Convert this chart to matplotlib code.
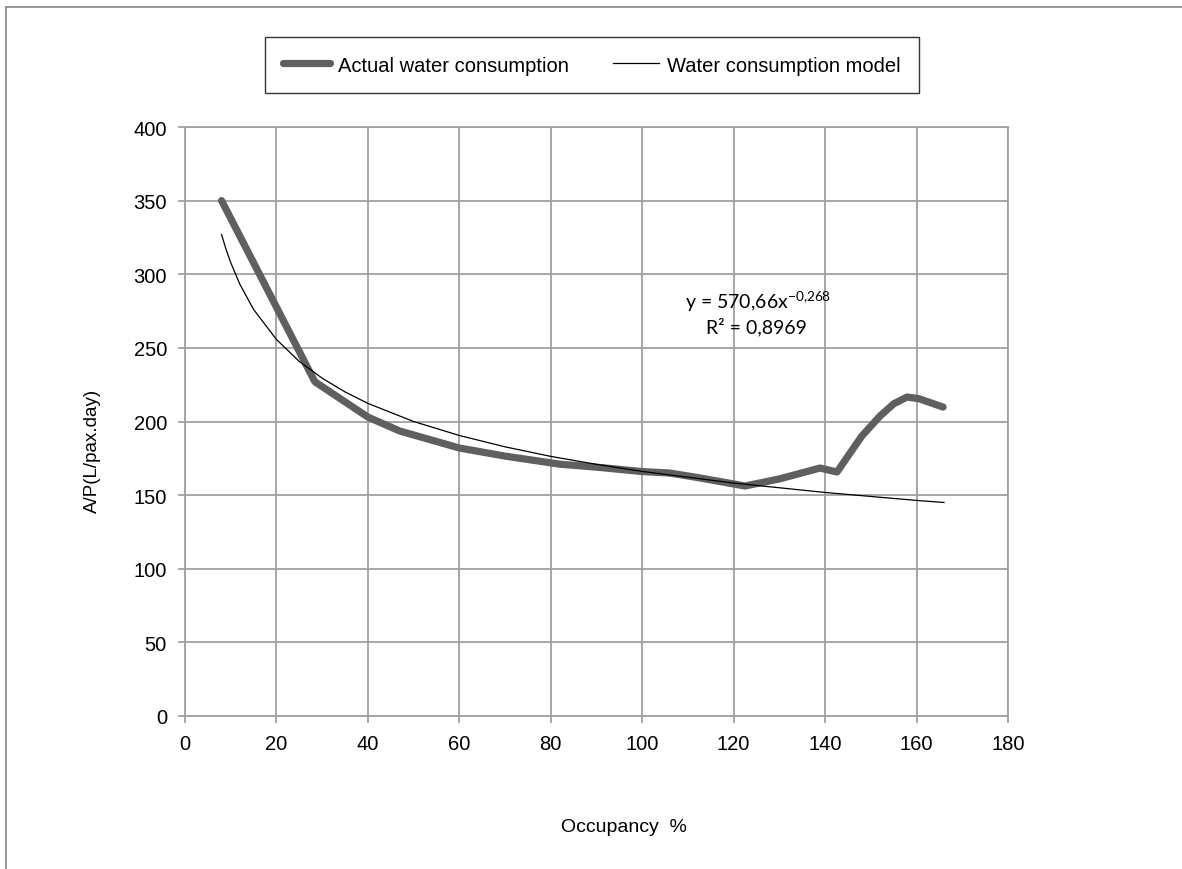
import matplotlib
matplotlib.use('Agg')
import matplotlib.pyplot as plt
from matplotlib.lines import Line2D

plt.rcParams['font.family'] = ['Liberation Sans', 'DejaVu Sans']

# actual water consumption
occ = [8, 15.3, 28.4, 40, 47, 60, 70, 82, 90, 100, 106, 112, 122.5, 130, 138.9, 142.6, 148, 152, 155, 157.9, 160.5, 165.8]
ap = [350, 306, 227, 203, 193.5, 182, 176.5, 171, 169, 166, 165, 162, 156.2, 161, 168.4, 165.7, 190, 203.7, 212, 216.6, 215.5, 209.8]

# water consumption model (power trendline as drawn)
model_x = [8, 9, 10, 12, 15, 20, 25, 30, 35, 40, 50, 60, 70, 80, 90, 100, 120, 140, 160, 166]
model_y = [326.9, 316.7, 307.9, 293.2, 276.1, 255.7, 240.8, 229.4, 220.1, 212.3, 200.0, 190.5, 182.8,
           176.3, 170.9, 166.1, 158.2, 151.8, 146.4, 145.0]

xticks = list(range(0, 181, 20))
yticks = list(range(0, 401, 50))

W, H = 1182, 870
fig = plt.figure(figsize=(W / 100, H / 100), dpi=100)
ax = fig.add_axes([185/W, 1 - 717/H, (1008-185)/W, (717-128)/H])

l1, = ax.plot(occ, ap, color='#5f5f5f', lw=5.2, solid_joinstyle='round', solid_capstyle='round',
              label='Actual water consumption', zorder=3)
l2, = ax.plot(model_x, model_y, color='black', lw=0.9, label='Water consumption model', zorder=4)

ax.set_xlim(0, 180)
ax.set_ylim(0, 400)
ax.set_xticks(xticks)
ax.set_yticks(yticks)
ax.grid(True, color='#a0a0a0', lw=1.3)
ax.set_axisbelow(True)
for s in ax.spines.values():
    s.set_color('#a0a0a0')
    s.set_linewidth(1.3)
ax.tick_params(colors='#a0a0a0', labelcolor='black', labelsize=14.5, length=5, width=1.3, pad=8)

fig.text(92/W, 1 - 451/H, 'A/P(L/pax.day)', rotation=90, ha='center', va='center', fontsize=13.5)
fig.text(624/W, 1 - 828/H, 'Occupancy  %', ha='center', va='center', fontsize=14)

fig.text(685/W, 1 - 302/H, r'y = 570,66x$^{\mathregular{-0{,}268}}$', fontsize=14,
         family='Lato', ha='left', va='center')
fig.text(756/W, 1 - 327/H, 'R² = 0,8969', fontsize=14, family='Lato', ha='center', va='center')

leg = fig.legend(handles=[l1, l2], loc='center', bbox_to_anchor=(592/W, 1 - 66/H), ncol=2,
                 frameon=True, fancybox=False, edgecolor='black', fontsize=14.5, handlelength=2.3,
                 handletextpad=0.4, columnspacing=2.2, borderpad=0.9, borderaxespad=0)
leg.get_frame().set_linewidth(1.0)

# outer chart border (left and top visible)
fig.add_artist(Line2D([6/W, 6/W], [0, 1 - 8/H], transform=fig.transFigure, color='#909090', lw=1.3))
fig.add_artist(Line2D([6/W, 1], [1 - 8/H, 1 - 8/H], transform=fig.transFigure, color='#909090', lw=1.3))

fig.savefig('out.png', dpi=100)
